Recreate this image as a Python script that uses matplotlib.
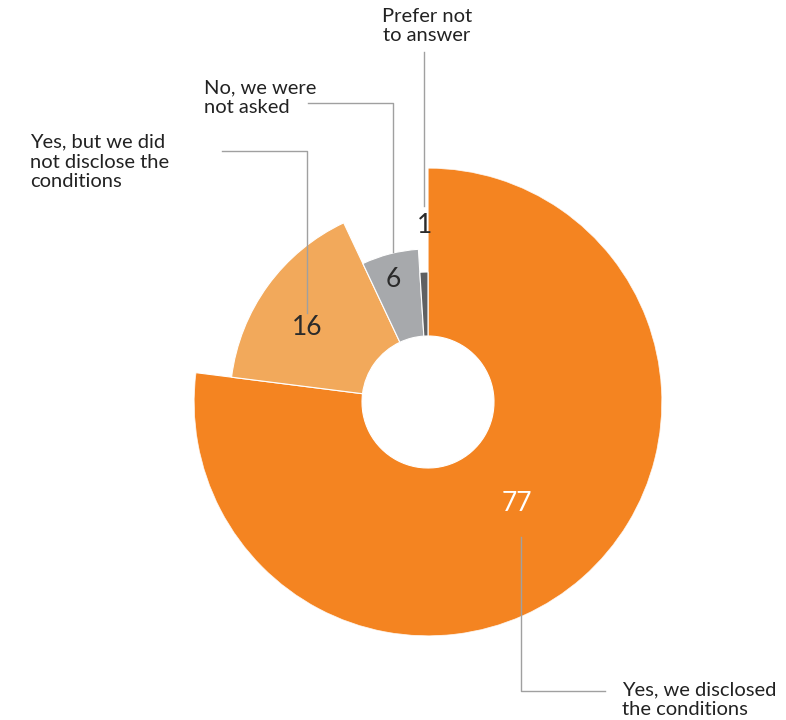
import numpy as np
import matplotlib
matplotlib.use("Agg")
import matplotlib.pyplot as plt
from matplotlib.lines import Line2D

plt.rcParams['font.family'] = ['Lato', 'DejaVu Sans']

categories = ['Yes, we disclosed\nthe conditions',
              'Yes, but we did\nnot disclose the\nconditions',
              'No, we were\nnot asked',
              'Prefer not\nto answer']
values = [77, 16, 6, 1]

# styling
colors = ['#F48421', '#F2A95B', '#A7A9AC', '#5F6062']
outer = [234, 198, 153, 130]
inner = 66
label_r = [135, 142, 127, 177]
label_shift = [0, -4.5, -1.5, 0.8]   # degrees off the slice middle
label_col = ['white', '#2b2b2b', '#2b2b2b', '#2b2b2b']

W, H = 786, 720
fig = plt.figure(figsize=(W / 100, H / 100), dpi=100)
cx, cy = 428, 402
R = 234
ax = fig.add_axes([(cx - R) / W, (H - cy - R) / H, 2 * R / W, 2 * R / H],
                  projection='polar')
ax.set_theta_zero_location('N')
ax.set_theta_direction(-1)
ax.set_ylim(0, R)
ax.axis('off')

total = sum(values)
widths = [v / total * 2 * np.pi for v in values]
starts = np.concatenate([[0], np.cumsum(widths)[:-1]])
mids = starts + np.array(widths) / 2

ax.bar(starts, [o - inner for o in outer], width=widths, bottom=inner,
       align='edge', color=colors, edgecolor='white', linewidth=0.8)

for m, s, r, v, c in zip(mids, label_shift, label_r, values, label_col):
    ax.text(m + np.radians(s), r, str(v), ha='center', va='center',
            fontsize=19, color=c, fontweight='normal')


def fx(x):
    return x / W


def fy(y):
    return 1 - y / H


line_kw = dict(color='#A0A0A0', linewidth=1.0, transform=fig.transFigure)
text_kw = dict(fontsize=14.5, color='#222222', transform=fig.transFigure,
               linespacing=1.2)

# leader lines (pixel paths)
paths = [
    [(521, 537), (521, 691), (605, 691)],
    [(222, 151), (307, 151), (307, 313)],
    [(308, 103), (393, 103), (393, 252)],
    [(424, 52), (424, 206)],
]
for p in paths:
    xs, ys = zip(*p)
    fig.add_artist(Line2D([fx(x) for x in xs], [fy(y) for y in ys], **line_kw))

fig.text(fx(622), fy(700), categories[0], ha='left', va='center', **text_kw)
fig.text(fx(30), fy(162), categories[1], ha='left', va='center', **text_kw)
fig.text(fx(204), fy(98), categories[2], ha='left', va='center', **text_kw)
fig.text(fx(427), fy(26), categories[3], ha='center', va='center', **text_kw)

fig.savefig('out.png', dpi=100)
